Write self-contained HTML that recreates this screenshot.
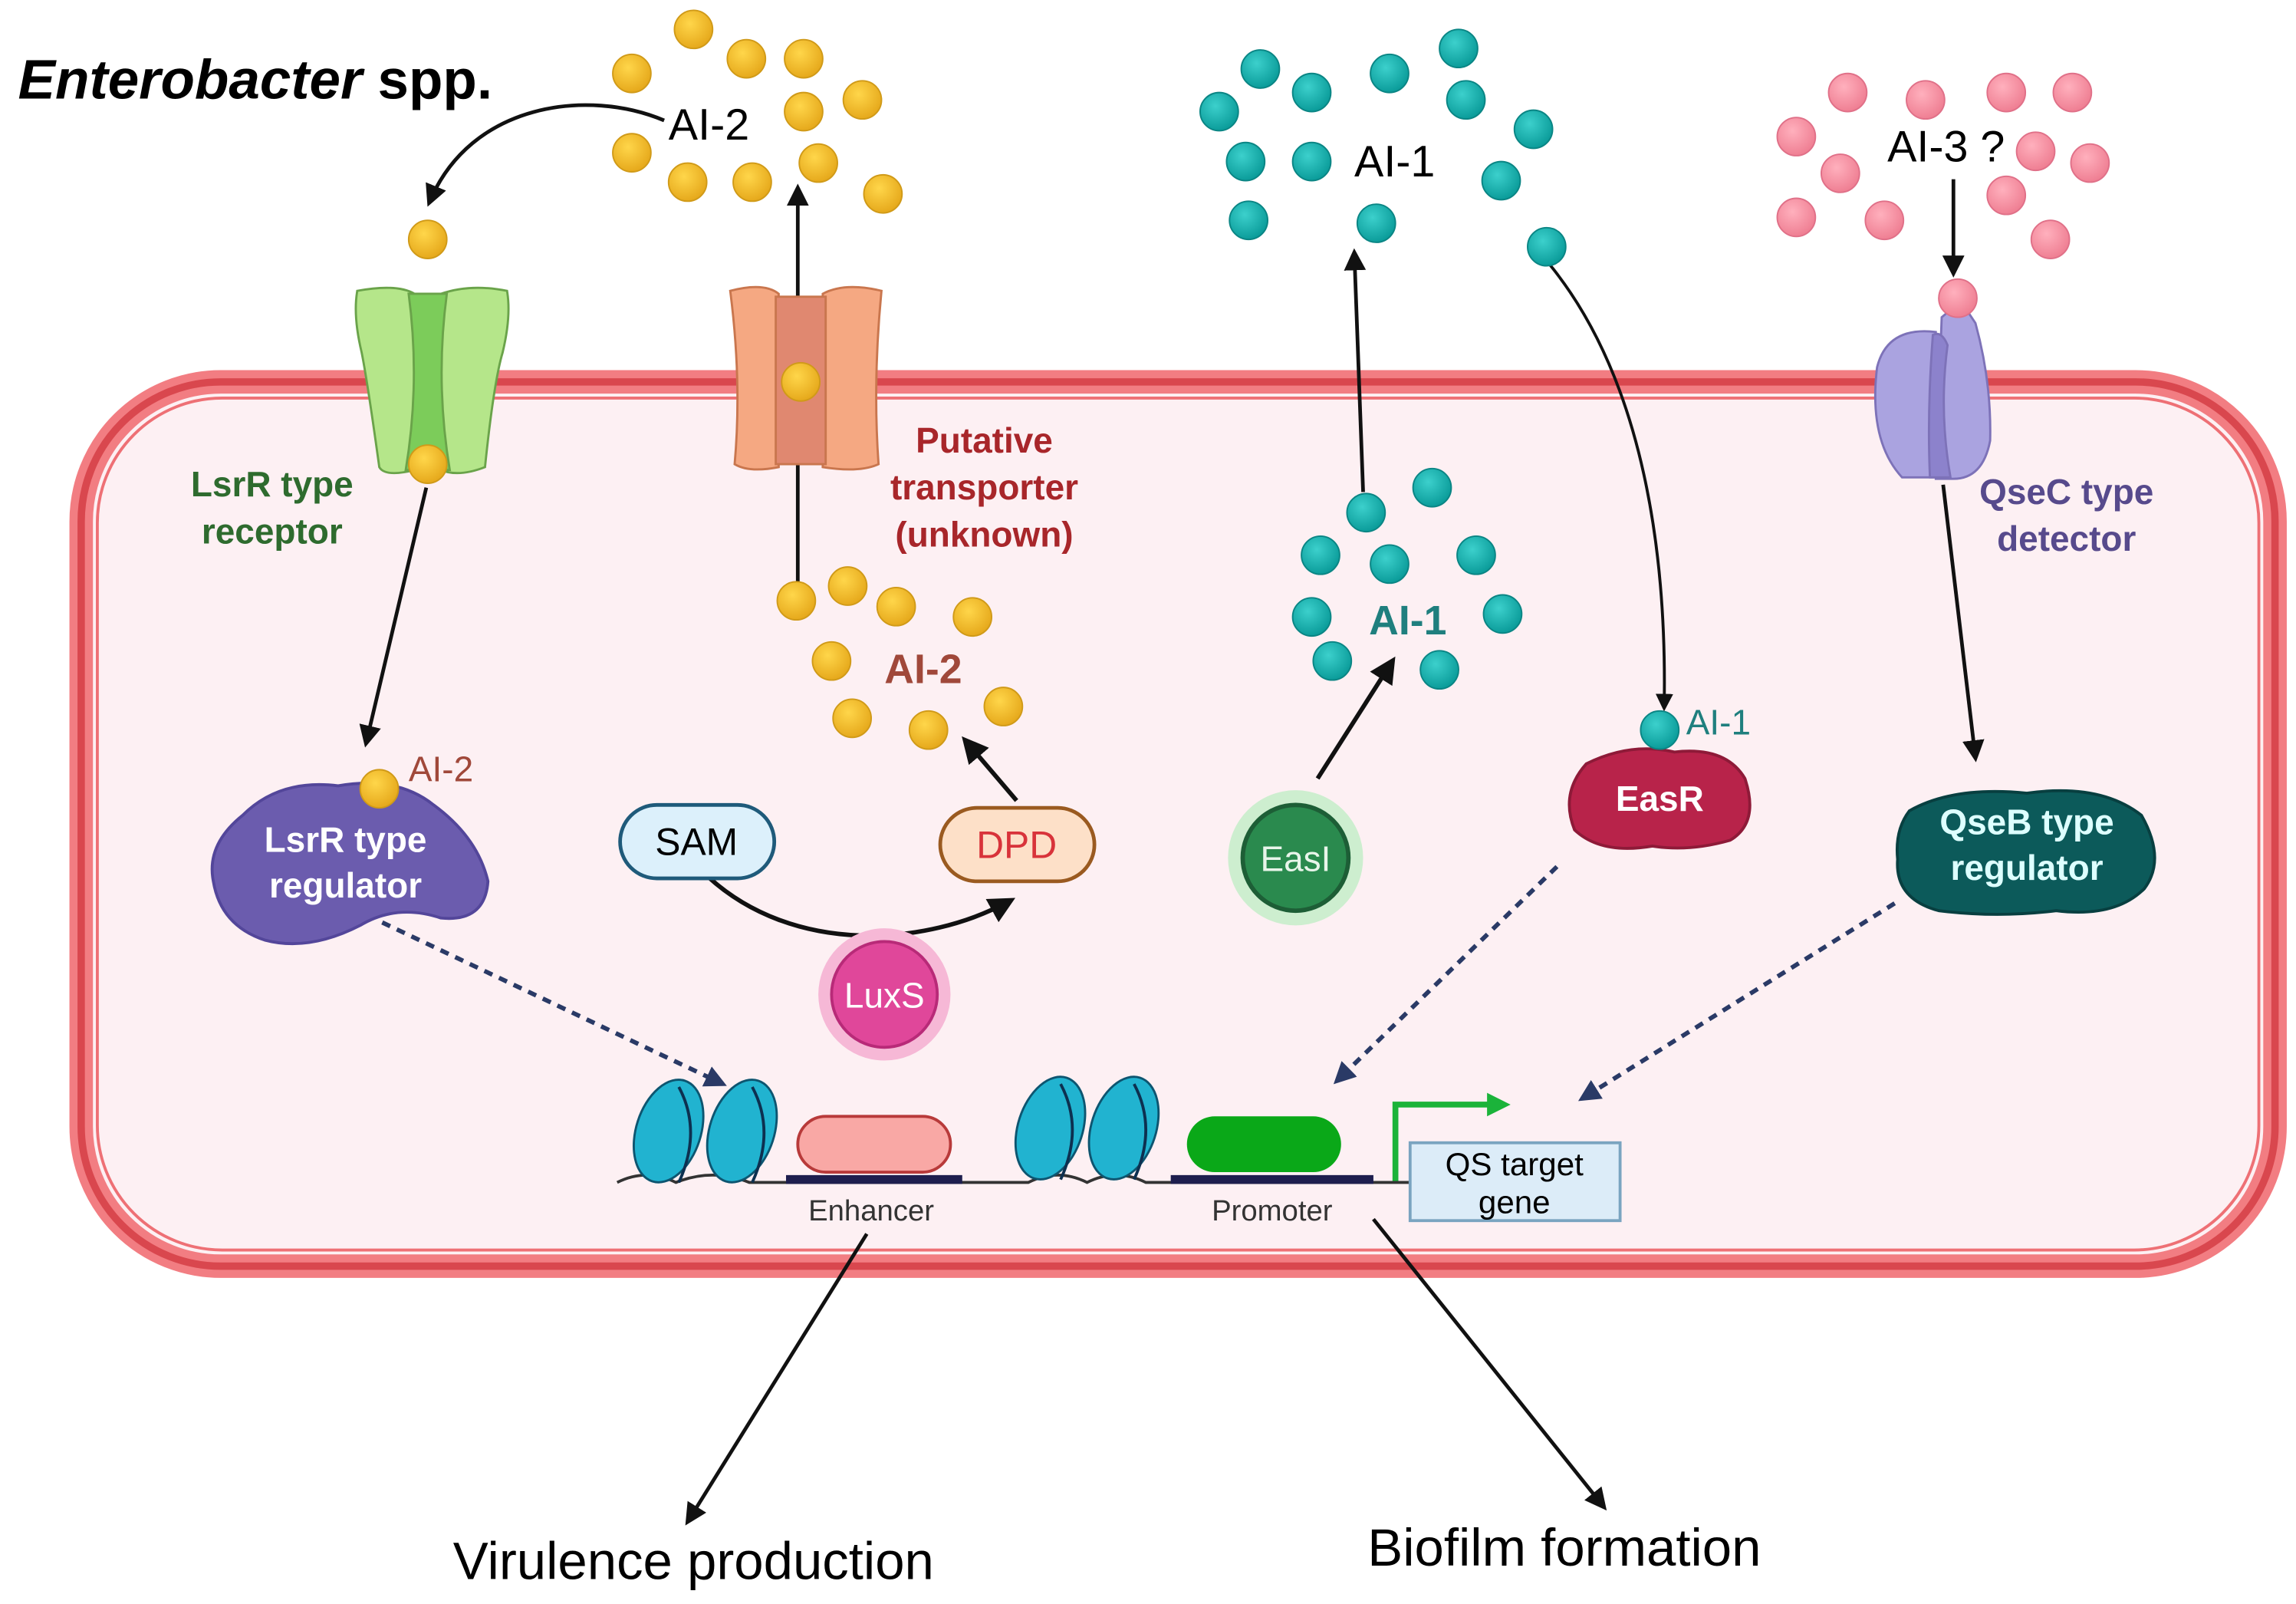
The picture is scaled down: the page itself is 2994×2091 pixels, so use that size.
<!DOCTYPE html>
<html><head><meta charset="utf-8"><style>
html,body{margin:0;padding:0;background:#fff;}
svg{display:block;}
text{font-family:"Liberation Sans",sans-serif;}
</style></head><body>
<svg width="2994" height="2091" viewBox="0 0 1563 1092" xmlns="http://www.w3.org/2000/svg">
<defs>
<marker id="ah" viewBox="0 0 10 10" refX="8" refY="5" markerWidth="6" markerHeight="6" orient="auto"><path d="M0,0 L10,5 L0,10 z" fill="#111"/></marker>
<marker id="ahd" viewBox="0 0 10 10" refX="8" refY="5" markerWidth="5" markerHeight="5" orient="auto"><path d="M0,0 L10,5 L0,10 z" fill="#2a3a66"/></marker>
<marker id="ahg" viewBox="0 0 10 10" refX="6" refY="5" markerWidth="4" markerHeight="4" orient="auto"><path d="M0,0 L10,5 L0,10 z" fill="#1bb33a"/></marker>
<radialGradient id="gy" cx="40%" cy="35%" r="65%"><stop offset="0" stop-color="#ffd64a"/><stop offset="1" stop-color="#e6a91c"/></radialGradient>
<radialGradient id="gt" cx="40%" cy="35%" r="65%"><stop offset="0" stop-color="#3cd0cc"/><stop offset="1" stop-color="#0b9c9a"/></radialGradient>
<radialGradient id="gp" cx="40%" cy="35%" r="65%"><stop offset="0" stop-color="#ffb0bd"/><stop offset="1" stop-color="#ef7f93"/></radialGradient>
</defs>

<rect x="55" y="260" width="1494" height="602" rx="95" fill="#fdf0f3" stroke="#f27d82" stroke-width="16"/>
<rect x="55" y="260" width="1494" height="602" rx="95" fill="none" stroke="#d9474e" stroke-width="5"/>
<rect x="66" y="271" width="1472" height="580" rx="85" fill="none" stroke="#ee7075" stroke-width="2"/>

<text x="12" y="67" font-size="38" font-weight="bold"><tspan font-style="italic">Enterobacter</tspan> spp.</text>

<path d="M452,82 C400,60 320,70 292,138" fill="none" stroke="#111" stroke-width="2.5" marker-end="url(#ah)"/>
<line x1="543" y1="410" x2="543" y2="128" stroke="#111" stroke-width="2.5" marker-end="url(#ah)"/>
<line x1="290" y1="332" x2="249" y2="506" stroke="#111" stroke-width="2.5" marker-end="url(#ah)"/>
<line x1="692" y1="545" x2="657" y2="504" stroke="#111" stroke-width="3" marker-end="url(#ah)"/>
<path d="M482,597 C540,650 630,645 688,613" fill="none" stroke="#111" stroke-width="3" marker-end="url(#ah)"/>
<line x1="897" y1="530" x2="948" y2="450" stroke="#111" stroke-width="3" marker-end="url(#ah)"/>
<line x1="928" y1="335" x2="922" y2="172" stroke="#111" stroke-width="2.5" marker-end="url(#ah)"/>
<path d="M1055,180 C1120,260 1135,380 1133,482" fill="none" stroke="#111" stroke-width="2" marker-end="url(#ah)"/>
<line x1="1330" y1="122" x2="1330" y2="186" stroke="#111" stroke-width="2.5" marker-end="url(#ah)"/>
<line x1="1323" y1="330" x2="1345" y2="516" stroke="#111" stroke-width="2.5" marker-end="url(#ah)"/>
<line x1="260" y1="628" x2="492" y2="738" stroke="#2a3a66" stroke-width="3" stroke-dasharray="6,5" marker-end="url(#ahd)"/>
<line x1="1060" y1="590" x2="910" y2="736" stroke="#2a3a66" stroke-width="3" stroke-dasharray="6,5" marker-end="url(#ahd)"/>
<line x1="1290" y1="615" x2="1077" y2="748" stroke="#2a3a66" stroke-width="3" stroke-dasharray="6,5" marker-end="url(#ahd)"/>
<line x1="590" y1="840" x2="468" y2="1036" stroke="#111" stroke-width="2.5" marker-end="url(#ah)"/>
<line x1="935" y1="830" x2="1092" y2="1026" stroke="#111" stroke-width="2.5" marker-end="url(#ah)"/>

<g stroke="#6aa34a" stroke-width="1.5">
<path d="M243,198 Q270,193 282,200 L282,320 Q262,325 258,318 Q250,260 246,240 Q240,215 243,198z" fill="#b5e68a"/>
<path d="M300,200 Q320,193 345,198 Q348,215 342,240 Q336,260 330,318 Q312,325 300,320z" fill="#b5e68a"/>
<path d="M278,200 L304,200 Q296,260 306,320 L276,320 Q286,260 278,200z" fill="#7ccc5a"/>
</g>
<g stroke="#c9764e" stroke-width="1.5">
<path d="M497,198 Q520,192 530,200 L530,318 Q510,322 500,316 Q505,260 497,198z" fill="#f5a882"/>
<path d="M560,200 Q575,192 600,198 Q594,260 598,316 Q585,322 560,318z" fill="#f5a882"/>
<rect x="528" y="202" width="34" height="114" fill="#e08870"/>
</g>
<g stroke="#7d72b8" stroke-width="1.5">
<path d="M1318,226 Q1285,222 1278,250 Q1272,300 1295,325 L1320,325z" fill="#aaa3e0"/>
<path d="M1322,216 L1335,205 L1345,220 Q1356,260 1355,300 Q1350,326 1330,326 L1318,326z" fill="#aaa3e0"/>
<path d="M1316,228 Q1322,225 1326,235 Q1320,280 1328,325 L1314,325 Q1312,280 1316,228z" fill="#8c82cc"/>
</g>

<g fill="url(#gy)" stroke="#d09a18" stroke-width="1">
<circle cx="472" cy="20" r="13"/><circle cx="508" cy="40" r="13"/><circle cx="547" cy="40" r="13"/><circle cx="430" cy="50" r="13"/><circle cx="547" cy="76" r="13"/><circle cx="587" cy="68" r="13"/><circle cx="430" cy="104" r="13"/><circle cx="468" cy="124" r="13"/><circle cx="512" cy="124" r="13"/><circle cx="557" cy="111" r="13"/><circle cx="601" cy="132" r="13"/>
<circle cx="291" cy="163" r="13"/><circle cx="291" cy="316" r="13"/><circle cx="545" cy="260" r="13"/>
<circle cx="542" cy="409" r="13"/><circle cx="577" cy="399" r="13"/><circle cx="610" cy="413" r="13"/><circle cx="662" cy="420" r="13"/><circle cx="566" cy="450" r="13"/><circle cx="580" cy="489" r="13"/><circle cx="632" cy="497" r="13"/><circle cx="683" cy="481" r="13"/>
</g>
<text x="455" y="95" font-size="30">AI-2</text>
<text x="602" y="465" font-size="28" font-weight="bold" fill="#a0483a">AI-2</text>

<g fill="url(#gt)" stroke="#0a8584" stroke-width="1">
<circle cx="858" cy="47" r="13"/><circle cx="893" cy="63" r="13"/><circle cx="946" cy="50" r="13"/><circle cx="993" cy="33" r="13"/><circle cx="998" cy="68" r="13"/><circle cx="830" cy="76" r="13"/><circle cx="848" cy="110" r="13"/><circle cx="893" cy="110" r="13"/><circle cx="1044" cy="88" r="13"/><circle cx="1022" cy="123" r="13"/><circle cx="850" cy="150" r="13"/><circle cx="937" cy="152" r="13"/><circle cx="1053" cy="168" r="13"/>
<circle cx="975" cy="332" r="13"/><circle cx="930" cy="349" r="13"/><circle cx="899" cy="378" r="13"/><circle cx="946" cy="384" r="13"/><circle cx="1005" cy="378" r="13"/><circle cx="893" cy="420" r="13"/><circle cx="1023" cy="418" r="13"/><circle cx="907" cy="450" r="13"/><circle cx="980" cy="456" r="13"/>
</g>
<text x="922" y="120" font-size="30">AI-1</text>
<text x="932" y="432" font-size="28" font-weight="bold" fill="#1f7f7e">AI-1</text>

<g fill="url(#gp)" stroke="#e07088" stroke-width="1">
<circle cx="1258" cy="63" r="13"/><circle cx="1311" cy="68" r="13"/><circle cx="1366" cy="63" r="13"/><circle cx="1411" cy="63" r="13"/><circle cx="1223" cy="93" r="13"/><circle cx="1253" cy="118" r="13"/><circle cx="1386" cy="103" r="13"/><circle cx="1423" cy="111" r="13"/><circle cx="1366" cy="133" r="13"/><circle cx="1223" cy="148" r="13"/><circle cx="1283" cy="150" r="13"/><circle cx="1396" cy="163" r="13"/><circle cx="1333" cy="203" r="13"/>
</g>
<text x="1285" y="110" font-size="30">AI-3 ?</text>

<g font-weight="bold" font-size="24" text-anchor="middle">
<text x="185" y="338" fill="#2e6b2e">LsrR type</text><text x="185" y="370" fill="#2e6b2e">receptor</text>
<text x="670" y="308" fill="#a8262a">Putative</text><text x="670" y="340" fill="#a8262a">transporter</text><text x="670" y="372" fill="#a8262a">(unknown)</text>
<text x="1407" y="343" fill="#574a8c">QseC type</text><text x="1407" y="375" fill="#574a8c">detector</text>
</g>

<path d="M165,555 Q190,530 230,535 Q270,528 295,548 Q325,570 332,600 Q330,628 300,625 Q270,615 245,630 Q210,648 180,640 Q150,630 145,600 Q140,575 165,555z" fill="#6b5cae" stroke="#53469a" stroke-width="2"/>
<circle cx="258" cy="537" r="13" fill="url(#gy)" stroke="#d09a18"/>
<text x="278" y="532" font-size="24" fill="#a0483a">AI-2</text>
<text x="235" y="580" font-size="24" font-weight="bold" fill="#fff" text-anchor="middle">LsrR type</text>
<text x="235" y="611" font-size="24" font-weight="bold" fill="#fff" text-anchor="middle">regulator</text>

<rect x="422" y="548" width="105" height="50" rx="25" fill="#dcf0fb" stroke="#1f5a7a" stroke-width="2.5"/>
<text x="474" y="582" font-size="26" text-anchor="middle">SAM</text>
<rect x="640" y="550" width="105" height="50" rx="25" fill="#fde0c8" stroke="#9a5a20" stroke-width="2.5"/>
<text x="692" y="584" font-size="26" text-anchor="middle" fill="#d8333a">DPD</text>

<circle cx="602" cy="677" r="45" fill="#f6b8d6"/>
<circle cx="602" cy="677" r="36" fill="#e0479a" stroke="#b82a78" stroke-width="2"/>
<text x="602" y="686" font-size="24" fill="#fff" text-anchor="middle">LuxS</text>
<circle cx="882" cy="584" r="46" fill="#cdeecf"/>
<circle cx="882" cy="584" r="36" fill="#2a8a4e" stroke="#1d5e36" stroke-width="3"/>
<text x="882" y="593" font-size="24" fill="#e8f5ea" text-anchor="middle">EasI</text>

<path d="M1080,520 Q1110,505 1140,512 Q1175,508 1188,530 Q1198,560 1178,572 Q1150,580 1125,576 Q1090,582 1072,565 Q1062,540 1080,520z" fill="#b8234a" stroke="#8e1a38" stroke-width="2"/>
<circle cx="1130" cy="497" r="13" fill="url(#gt)" stroke="#0a8584"/>
<text x="1148" y="500" font-size="24" fill="#1f7f7e">AI-1</text>
<text x="1130" y="552" font-size="24" font-weight="bold" fill="#fff" text-anchor="middle">EasR</text>
<path d="M1300,552 Q1330,535 1380,540 Q1430,533 1458,555 Q1475,585 1460,605 Q1440,625 1400,620 Q1360,625 1320,620 Q1290,612 1292,585 Q1290,565 1300,552z" fill="#0c5a5a" stroke="#083f40" stroke-width="2"/>
<text x="1380" y="568" font-size="24" font-weight="bold" fill="#dff" text-anchor="middle">QseB type</text>
<text x="1380" y="599" font-size="24" font-weight="bold" fill="#dff" text-anchor="middle">regulator</text>

<path d="M420,805 Q440,795 460,805 Q485,795 510,805 L700,805 Q720,795 740,805 Q760,795 780,805 L960,805" fill="none" stroke="#333" stroke-width="2"/>
<rect x="535" y="800" width="120" height="6" fill="#1e1e4e"/>
<rect x="797" y="800" width="138" height="6" fill="#1e1e4e"/>
<g stroke="#0d5570" stroke-width="1.5">
<ellipse cx="455" cy="770" rx="22" ry="36" transform="rotate(18 455 770)" fill="#21b3d0"/>
<ellipse cx="505" cy="770" rx="22" ry="36" transform="rotate(18 505 770)" fill="#21b3d0"/>
<ellipse cx="715" cy="768" rx="22" ry="36" transform="rotate(18 715 768)" fill="#21b3d0"/>
<ellipse cx="765" cy="768" rx="22" ry="36" transform="rotate(18 765 768)" fill="#21b3d0"/>
</g>
<g stroke="#0d3050" stroke-width="2" fill="none">
<path d="M462,740 Q478,770 462,805"/><path d="M512,740 Q528,770 512,805"/>
<path d="M722,738 Q738,768 722,803"/><path d="M772,738 Q788,768 772,803"/>
</g>
<rect x="543" y="760" width="104" height="38" rx="19" fill="#f9a8a5" stroke="#b83a3a" stroke-width="2"/>
<rect x="808" y="760" width="105" height="38" rx="19" fill="#0aa818"/>
<text x="593" y="831" font-size="20" fill="#333" text-anchor="middle">Enhancer</text>
<text x="866" y="831" font-size="20" fill="#333" text-anchor="middle">Promoter</text>
<path d="M950,804 L950,752 L1022,752" fill="none" stroke="#1bb33a" stroke-width="4" marker-end="url(#ahg)"/>
<rect x="960" y="778" width="143" height="53" fill="#dcecf8" stroke="#7aa4c0" stroke-width="2"/>
<text x="1031" y="800" font-size="22" text-anchor="middle">QS target</text>
<text x="1031" y="826" font-size="22" text-anchor="middle">gene</text>

<text x="472" y="1075" font-size="36" text-anchor="middle">Virulence production</text>
<text x="1065" y="1066" font-size="36" text-anchor="middle">Biofilm formation</text>
</svg>
</body></html>
